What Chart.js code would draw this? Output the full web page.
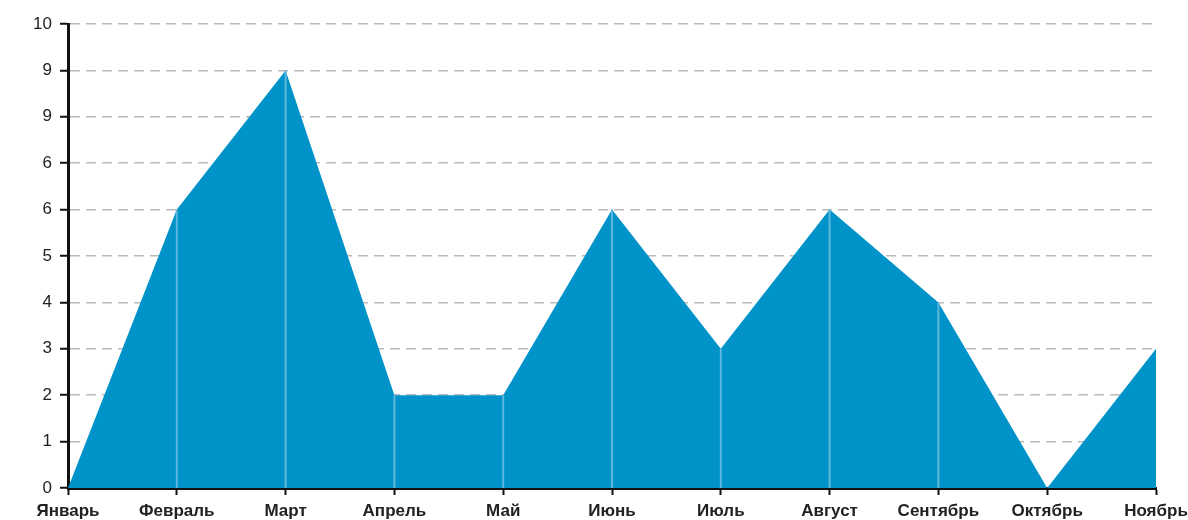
<!DOCTYPE html>
<html lang="ru">
<head>
  <meta charset="UTF-8">
  <title>График</title>
  <script src="https://cdn.jsdelivr.net/npm/chart.js"></script>
  <style>
    html, body { margin: 0; padding: 0; background: #fff; }
    #wrap { width: 1188px; height: 520px; }
  </style>
</head>
<body>
  <div id="wrap"><canvas id="grafico"></canvas></div>

  <script>
    const meses = ['Январь', 'Февраль', 'Март', 'Апрель', 'Май', 'Июнь', 'Июль', 'Август', 'Сентябрь', 'Октябрь', 'Ноябрь'];
    const valores = [0, 6, 9, 2, 2, 6, 3, 6, 4, 0, 3];
    // подписи оси Y как на исходнике (с повторами)
    const yLabels = ['0', '1', '2', '3', '4', '5', '6', '6', '9', '9', '10'];

    // вертикальные светлые линии от точки вниз
    const dropLines = {
      id: 'dropLines',
      afterDatasetsDraw(chart) {
        const ctx = chart.ctx;
        const meta = chart.getDatasetMeta(0);
        const y0 = chart.scales.y.getPixelForValue(0);
        ctx.save();
        ctx.strokeStyle = '#5eb7de';
        ctx.lineWidth = 2;
        meta.data.forEach((pt, i) => {
          if (valores[i] <= 0 || i === valores.length - 1) return;
          ctx.beginPath();
          ctx.moveTo(pt.x, pt.y);
          ctx.lineTo(pt.x, y0);
          ctx.stroke();
        });
        ctx.restore();
      }
    };

    new Chart(document.getElementById('grafico'), {
      type: 'line',
      data: {
        labels: meses,
        datasets: [{
          data: valores,
          backgroundColor: '#0093c9',
          borderWidth: 0,
          pointRadius: 0,
          fill: 'origin',
          tension: 0
        }]
      },
      options: {
        responsive: true,
        maintainAspectRatio: false,
        animation: false,
        layout: { padding: { top: 24, right: 0, left: 0, bottom: 0 } },
        plugins: {
          legend: { display: false },
          tooltip: { enabled: false }
        },
        scales: {
          x: {
            offset: false,
            afterFit(s) { s.height = 32; s.paddingRight = 32; },
            grid: {
              drawOnChartArea: false,
              drawTicks: true,
              tickLength: 7,
              tickColor: '#111',
              tickWidth: 2
            },
            border: { display: true, color: '#111', width: 3 },
            ticks: {
              color: '#222',
              font: { family: 'Liberation Sans', size: 17, weight: 'bold' },
              padding: 6,
              maxRotation: 0,
              autoSkip: false
            }
          },
          y: {
            min: 0,
            max: 10,
            afterFit(s) { s.width = 68; },
            grid: {
              color: '#bbbbbb',
              lineWidth: 1.5,
              drawTicks: true,
              tickLength: 8,
              tickColor: '#111',
              tickWidth: 2,
              tickBorderDash: []
            },
            border: { display: true, color: '#111', width: 3, dash: [10, 6] },
            ticks: {
              stepSize: 1,
              color: '#222',
              font: { family: 'Liberation Sans', size: 17 },
              padding: 8,
              callback: (v, i) => yLabels[i]
            }
          }
        }
      },
      plugins: [dropLines]
    });
  </script>
</body>
</html>
